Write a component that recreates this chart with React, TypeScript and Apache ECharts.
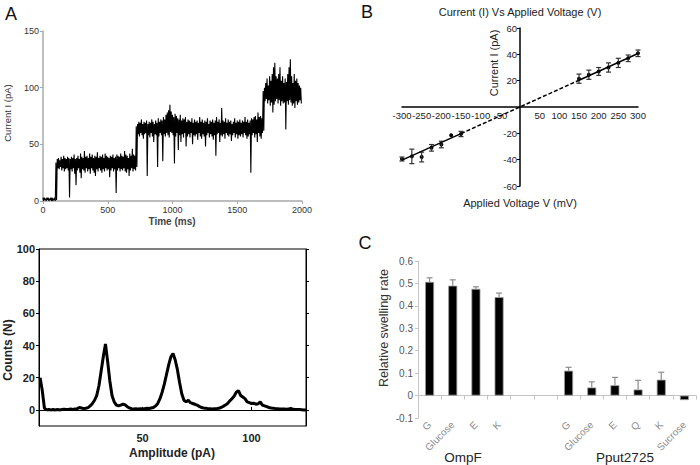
import React, { useEffect, useRef } from "react";
import * as echarts from "echarts";

// ---------- Panel A (top): single-channel current trace ----------
// Trace read as an envelope per 10 ms bin: highest and lowest current seen in that bin.
const traceBinMs = 10;
const traceHigh = [
  3, 3, 2, 3, 3, 2, 3, 3, 2, 3,
  34,
  37, 38, 36, 39, 37, 40, 38, 37, 39, 38,
  37, 39, 38, 41, 37, 38, 40, 37, 42, 39,
  38, 44, 39, 40, 38, 42, 39, 41, 38, 40,
  39, 43, 38, 40, 39, 41, 38, 42, 40, 39,
  38, 40, 39, 41, 38, 39, 41, 40, 39, 42,
  40, 39, 44, 41, 40, 38, 42, 40, 46, 41, 40,
  66,
  68, 70, 69, 72, 68, 70, 69, 71, 68, 70,
  69, 72, 70, 68, 71, 69, 73, 70, 72, 71,
  74, 72, 76, 78, 80, 85, 79, 76, 74, 77,
  75, 73, 72, 76, 71, 73, 72, 74, 70, 72,
  71, 70, 73, 69, 72, 70, 71, 69, 74, 70,
  72, 69, 71, 70, 73, 68, 71, 70, 72, 69,
  71, 74, 70, 72, 69, 82, 71, 70, 73, 69,
  72, 70, 71, 68, 70, 73, 69, 71, 70, 72,
  69, 71, 70, 74, 70, 72, 69, 71, 73, 72,
  74, 75, 72, 78, 74, 75, 73,
  97,
  100, 104, 108, 102, 110, 106, 112, 118, 122, 110,
  108, 112, 118, 106, 110, 104, 108, 105, 112, 118,
  125, 110, 104, 112, 106, 108, 104, 102, 100,
];
const traceLow = [
  0, 1, 0, 1, 0, 1, 0, 0, 1, 0,
  1,
  29, 28, 30, 27, 29, 26, 28, 29, 27, 3,
  28, 26, 29, 24, 14, 27, 29, 25, 20, 28,
  27, 25, 29, 26, 28, 24, 29, 27, 25, 22,
  28, 26, 29, 27, 25, 28, 26, 29, 27, 28,
  21, 27, 29, 26, 28, 7, 27, 29, 26, 28,
  27, 29, 26, 25, 28, 22, 27, 29, 26, 28, 27,
  30,
  59, 57, 60, 58, 55, 59, 60, 22, 58, 56,
  60, 57, 52, 59, 58, 30, 57, 60, 58, 35,
  59, 57, 60, 58, 56, 61, 60, 58, 33, 57,
  60, 45, 58, 52, 59, 56, 60, 48, 57, 59,
  56, 60, 50, 58, 57, 59, 54, 60, 57, 55,
  59, 57, 48, 58, 60, 56, 59, 57, 54, 58,
  40, 59, 60, 52, 58, 57, 59, 55, 60, 58,
  57, 59, 53, 58, 60, 56, 59, 55, 58, 57,
  59, 56, 60, 58, 55, 57, 59, 25, 58, 60,
  56, 59, 52, 60, 57, 55, 60,
  62,
  88, 90, 86, 89, 84, 87, 78, 85, 88, 90,
  86, 89, 84, 88, 86, 87, 63, 88, 85, 89,
  87, 84, 86, 82, 88, 85, 87, 89, 86,
];
const timeTicks = [0, 500, 1000, 1500, 2000];

// ---------- Panel A (bottom): amplitude histogram ----------
const histStartPa = 3;
const histCounts = [
  20, 12, 1, 0, 0.3, 0, 0.2, 0, 0.3, 0,
  0.2, 0.4, 0.2, 0.3, 0.5, 0.3, 0.6, 0.8, 1.5, 1.2,
  0.8, 1.0, 1.4, 2.5, 4, 6, 9, 15, 24, 33,
  41, 30, 18, 9, 5, 3, 2.5, 3, 3.5, 3.2,
  2, 1.2, 0.8, 0.6, 0.8, 0.5, 0.7, 0.6, 0.8, 1.0,
  0.9, 1.2, 1.5, 2.5, 4, 7, 11, 16, 22, 28,
  33, 35, 31, 25, 17, 10, 6, 5, 6, 4.5,
  4, 3.5, 3, 2.2, 1.5, 1.2, 1.0, 0.8, 0.7, 0.6,
  0.7, 0.8, 1, 1.5, 2.2, 3, 4, 5.5, 7, 8.5,
  11, 12, 9, 8, 7, 5, 4.5, 4, 4.2, 3.5,
  3.8, 5, 3, 2.5, 2, 1.5, 1.2, 1, 0.8, 0.7,
  0.6, 0.5, 0.6, 0.4, 0.5, 1, 0.4, 0.3, 0.2, 0.2,
  0.1, 0, 0,
];
const histTicks = [50, 100];
const countTicks = [0, 20, 40, 60, 80, 100];

// ---------- Panel B: I-V curve ----------
const ivVoltage = [-300, -275, -250, -225, -200, -175, -150, 150, 175, 200, 225, 250, 275, 300];
const ivCurrent = [-39.5, -37.5, -38, -31, -28.5, -21.5, -20.5, 21.5, 24.5, 27, 30, 33.5, 37, 40.8];
const ivError = [1.5, 5.5, 3.7, 2.5, 2.5, 0, 2, 3.5, 3.5, 3, 3.5, 3.5, 2.5, 2.5];
const fitNegVoltage = [-300, -150];
const fitNegCurrent = [-40.3, -20.2];
const fitMidVoltage = [-150, 150];
const fitMidCurrent = [-20.2, 20.3];
const fitPosVoltage = [150, 300];
const fitPosCurrent = [20.3, 40.6];

// ---------- Panel C: relative swelling rate ----------
const swellCategories = ["G", "Glucose", "E", "K", "", "", "G", "Glucose", "E", "Q", "K", "Sucrose"];
const swellRate = [0.507, 0.49, 0.476, 0.439, null, null, 0.111, 0.036, 0.046, 0.027, 0.071, -0.02];
const swellError = [0.018, 0.026, 0.009, 0.018, null, null, 0.015, 0.025, 0.035, 0.041, 0.033, 0];

const FONT = "'Liberation Sans', Arial, sans-serif";

function txt(text: string, x: number, y: number, size: number, opts: any = {}) {
  return {
    type: "text",
    x,
    y,
    rotation: opts.rotation || 0,
    style: {
      text,
      fontSize: size,
      fontFamily: FONT,
      fontWeight: opts.bold ? "bold" : "normal",
      fill: opts.color || "#222",
      align: "center",
      verticalAlign: "middle",
      textAlign: "center",
      textVerticalAlign: "middle",
    },
  };
}

export default function App() {
  const ref = useRef<HTMLDivElement>(null);

  useEffect(() => {
    if (!ref.current) return;
    const chart = echarts.init(ref.current, null, { renderer: "svg" });

    const traceData: number[][] = [];
    traceHigh.forEach((h, i) => {
      traceData.push([i * traceBinMs, h]);
      traceData.push([i * traceBinMs + traceBinMs / 2, traceLow[i]]);
    });
    const histData = histCounts.map((v, i) => [histStartPa + i, v]);
    const ivData = ivVoltage.map((v, i) => [v, ivCurrent[i], ivError[i]]);
    const swellErrData = swellRate
      .map((v, i) => (v == null ? null : [i, v, swellError[i]]))
      .filter((d) => d != null);

    const grayAxis = { lineStyle: { color: "#a8a8a8", width: 1.5 } };
    const hideZero = (v: number) => (Math.abs(v) < 1e-9 ? "" : String(v));

    const option: any = {
      animation: false,
      textStyle: { fontFamily: FONT },
      grid: [
        { left: 43, top: 31, width: 259, height: 170 },
        { left: 39, top: 249, width: 267, height: 177, show: true, borderColor: "#000", borderWidth: 1, backgroundColor: "transparent" },
        { left: 402, top: 28, width: 236, height: 158 },
        { left: 418, top: 261, width: 278, height: 157 },
      ],
      xAxis: [
        {
          type: "value", gridIndex: 0, min: 0, max: 2000, interval: 500,
          axisLine: grayAxis,
          axisTick: { show: true, length: 3, lineStyle: { color: "#a8a8a8" } },
          axisLabel: { fontSize: 9, color: "#333", margin: 4, formatter: (v: number) => String(v), customValues: timeTicks },
          splitLine: { show: false },
        },
        {
          type: "value", gridIndex: 1, min: 2.5, max: 125, position: "bottom",
          axisLine: { lineStyle: { color: "#000", width: 1 } },
          axisTick: { show: false },
          axisLabel: { fontSize: 11, fontWeight: "bold", color: "#222", margin: 6, customValues: histTicks },
          splitLine: { show: false },
        },
        {
          type: "value", gridIndex: 1, min: 2.5, max: 125, position: "top",
          axisLine: { lineStyle: { color: "#000", width: 1 } },
          axisTick: { show: true, length: 3, lineStyle: { color: "#000" }, customValues: histTicks },
          axisLabel: { show: false },
          splitLine: { show: false },
        },
        {
          type: "value", gridIndex: 2, min: -300, max: 300, interval: 50,
          position: "bottom", offset: -79,
          axisLine: { onZero: false, lineStyle: { color: "#000", width: 1.5 } },
          axisTick: { show: false },
          axisLabel: { fontSize: 9.5, color: "#222", margin: 3, formatter: hideZero },
          splitLine: { show: false },
        },
        {
          type: "category", gridIndex: 3, data: swellCategories,
          axisLine: { onZero: true, lineStyle: { color: "#c4c4c4", width: 1 } },
          axisTick: { show: true, interval: 0, length: 4, lineStyle: { color: "#c4c4c4" } },
          axisLabel: { interval: 0, rotate: 45, fontSize: 10, color: "#8c8c8c", margin: 5 },
          splitLine: { show: false },
        },
      ],
      yAxis: [
        {
          type: "value", gridIndex: 0, min: 0, max: 150, interval: 50,
          axisLine: { show: true, ...grayAxis },
          axisTick: { show: true, length: 3, lineStyle: { color: "#a8a8a8" } },
          axisLabel: { fontSize: 9, color: "#333", margin: 4 },
          splitLine: { show: false },
        },
        {
          type: "value", gridIndex: 1, min: -10, max: 100, position: "left",
          axisLine: { show: true, lineStyle: { color: "#000", width: 1 } },
          axisTick: { show: true, length: 3, lineStyle: { color: "#000" }, customValues: countTicks },
          axisLabel: { fontSize: 11, fontWeight: "bold", color: "#222", margin: 4, customValues: countTicks },
          splitLine: { show: false },
        },
        {
          type: "value", gridIndex: 1, min: -10, max: 100, position: "right",
          axisLine: { show: true, lineStyle: { color: "#000", width: 1 } },
          axisTick: { show: true, length: 3, lineStyle: { color: "#000" }, customValues: countTicks },
          axisLabel: { show: false },
          splitLine: { show: false },
        },
        {
          type: "value", gridIndex: 2, min: -60, max: 60, interval: 20,
          position: "left", offset: -118,
          axisLine: { show: true, onZero: false, lineStyle: { color: "#000", width: 1.5 } },
          axisTick: { show: true, length: 3, lineStyle: { color: "#000" } },
          axisLabel: { fontSize: 9.5, color: "#222", margin: 3, formatter: hideZero },
          splitLine: { show: false },
        },
        {
          type: "value", gridIndex: 3, min: -0.1, max: 0.6, interval: 0.1,
          axisLine: { show: true, lineStyle: { color: "#c4c4c4", width: 1 } },
          axisTick: { show: true, length: 3, lineStyle: { color: "#c4c4c4" } },
          axisLabel: {
            fontSize: 10, color: "#555", margin: 5,
            formatter: (v: number) => (Math.abs(v) < 1e-9 ? "0" : v.toFixed(1)),
          },
          splitLine: { show: false },
        },
      ],
      series: [
        {
          type: "line", xAxisIndex: 0, yAxisIndex: 0, data: traceData,
          symbol: "none", lineStyle: { color: "#000", width: 1.1 },
        },
        {
          type: "line", xAxisIndex: 1, yAxisIndex: 1, data: histData,
          symbol: "none", lineStyle: { color: "#000", width: 3 },
        },
        {
          type: "line", xAxisIndex: 3, yAxisIndex: 3,
          data: fitNegVoltage.map((v, i) => [v, fitNegCurrent[i]]),
          symbol: "none", lineStyle: { color: "#000", width: 1.5 },
        },
        {
          type: "line", xAxisIndex: 3, yAxisIndex: 3,
          data: fitMidVoltage.map((v, i) => [v, fitMidCurrent[i]]),
          symbol: "none", lineStyle: { color: "#000", width: 1.5, type: [4, 2] },
        },
        {
          type: "line", xAxisIndex: 3, yAxisIndex: 3,
          data: fitPosVoltage.map((v, i) => [v, fitPosCurrent[i]]),
          symbol: "none", lineStyle: { color: "#000", width: 1.5 },
        },
        {
          type: "custom", xAxisIndex: 3, yAxisIndex: 3, data: ivData,
          renderItem: (params: any, api: any) => {
            const x = api.value(0);
            const y = api.value(1);
            const e = api.value(2);
            const hi = api.coord([x, y + e]);
            const lo = api.coord([x, y - e]);
            const c = api.coord([x, y]);
            const children: any[] = [
              { type: "circle", shape: { cx: c[0], cy: c[1], r: 2 }, style: { fill: "#000" } },
            ];
            if (e > 0) {
              const st = { stroke: "#333", lineWidth: 1.2 };
              children.push(
                { type: "line", shape: { x1: hi[0], y1: hi[1], x2: lo[0], y2: lo[1] }, style: st },
                { type: "line", shape: { x1: hi[0] - 2.5, y1: hi[1], x2: hi[0] + 2.5, y2: hi[1] }, style: st },
                { type: "line", shape: { x1: lo[0] - 2.5, y1: lo[1], x2: lo[0] + 2.5, y2: lo[1] }, style: st }
              );
            }
            return { type: "group", children };
          },
        },
        {
          type: "bar", xAxisIndex: 4, yAxisIndex: 4, data: swellRate, barWidth: 9,
          itemStyle: { color: "#000", borderColor: "#9a9a9a", borderWidth: 0.8 },
        },
        {
          type: "custom", xAxisIndex: 4, yAxisIndex: 4, data: swellErrData, z: 3,
          renderItem: (params: any, api: any) => {
            const i = api.value(0);
            const y = api.value(1);
            const e = api.value(2);
            if (!(e > 0)) return null;
            const base = api.coord([i, y]);
            const top = api.coord([i, y + e]);
            const st = { stroke: "#8c8c8c", lineWidth: 1.2 };
            return {
              type: "group",
              children: [
                { type: "line", shape: { x1: base[0], y1: base[1], x2: top[0], y2: top[1] }, style: st },
                { type: "line", shape: { x1: top[0] - 3, y1: top[1], x2: top[0] + 3, y2: top[1] }, style: st },
              ],
            };
          },
        },
      ],
      graphic: [
        txt("A", 11, 14, 18, { color: "#111" }),
        txt("B", 367, 12, 18, { color: "#111" }),
        txt("C", 365, 243, 18, { color: "#111" }),
        txt("Current I (pA)", 7, 113, 9.5, { rotation: Math.PI / 2, color: "#333" }),
        txt("Time (ms)", 172, 221, 10, { color: "#444", bold: true }),
        txt("Counts (N)", 8, 350, 12, { rotation: Math.PI / 2, bold: true }),
        txt("Amplitude (pA)", 172, 453, 12, { bold: true }),
        txt("Current (I) Vs Applied Voltage (V)", 520, 12, 11, { color: "#222" }),
        txt("Applied Voltage V (mV)", 520, 203, 11, { color: "#222" }),
        txt("Current I (pA)", 494, 63, 11, { rotation: Math.PI / 2, color: "#222" }),
        txt("Relative swelling rate", 384, 328, 12.5, { rotation: Math.PI / 2, color: "#333" }),
        txt("OmpF", 463, 457, 13.5, { color: "#222" }),
        txt("Pput2725", 625, 457, 13.5, { color: "#222" }),
      ],
    };

    chart.setOption(option);
    return () => chart.dispose();
  }, []);

  return (
    <div
      ref={ref}
      style={{ position: "fixed", left: 0, top: 0, width: 700, height: 465, background: "#fff" }}
    />
  );
}
